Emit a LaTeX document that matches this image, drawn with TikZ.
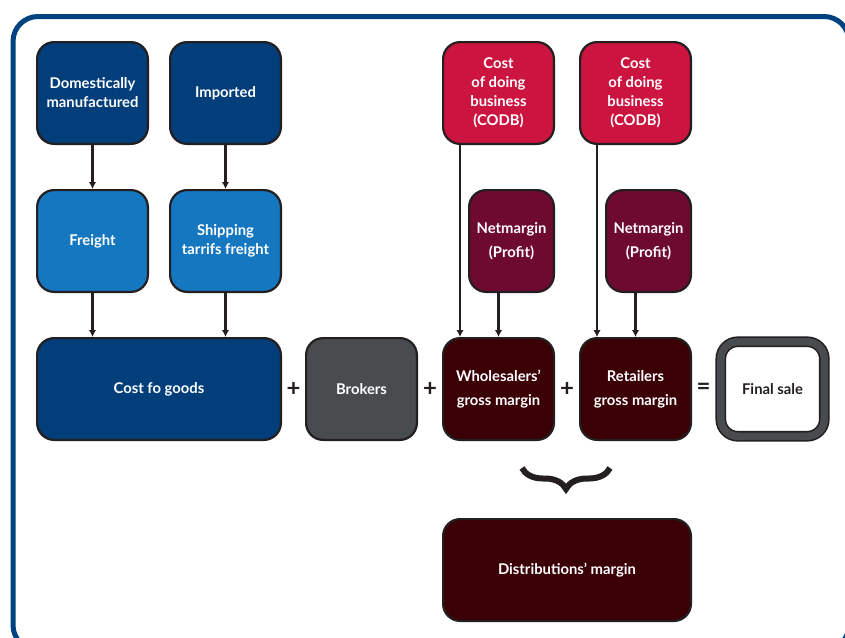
\documentclass[tikz,border=0pt]{standalone}
\usepackage{fontspec}
\setmainfont{Lato}
\usetikzlibrary{arrows.meta, positioning, calc, decorations.pathreplacing}

\definecolor{navy}{RGB}{2,62,122}
\definecolor{skyblue}{RGB}{22,119,193}
\definecolor{codbred}{RGB}{204,20,64}
\definecolor{profit}{RGB}{110,10,47}
\definecolor{margin}{RGB}{58,0,6}
\definecolor{slate}{RGB}{73,76,78}
\definecolor{edge}{RGB}{35,31,32}
\definecolor{frame}{RGB}{0,66,127}

\begin{document}
\begin{tikzpicture}[
    x=1pt, y=1pt,
    font=\bfseries\fontsize{14.8}{19}\selectfont,
    box/.style={draw=edge, line width=2.2pt, rounded corners=17pt, text=white,
    align=center, inner sep=2pt, minimum height=101.8pt, minimum width=110.8pt},
    wide/.style={box, minimum width=243.8pt},
    narrow/.style={box, minimum width=84.8pt},
    sign/.style={text=edge, font=\bfseries\fontsize{24}{24}\selectfont, inner sep=0pt},
    arrow/.style={draw=edge, line width=2.2pt, -{Latex[length=7pt,width=7.5pt]}},
    brace/.style={draw=edge, line width=6pt, decorate,
    decoration={brace, mirror, amplitude=21pt, aspect=0.5}}
    ]
    \useasboundingbox (0,0) rectangle (845,-637);
    \clip (0,0) rectangle (845,-637);
    \draw[frame, line width=5pt, rounded corners=25pt] (13,-16.5) rectangle (849,-650);

    % sources
    \node[box, fill=navy]     (dom)  at (92.5,-93)                   {Domestically\\manufactured};
    \node[box, fill=navy]     (imp)  [right=20pt of dom]             {Imported};
    \node[box, fill=skyblue]  (frt)  [below=44pt of dom]             {Freight};
    \node[box, fill=skyblue]  (shp)  [below=44pt of imp]             {Shipping\\tarrifs freight};

    % the sum
    \node[wide, fill=navy]    (cog)  [below=44pt of frt.south west, anchor=north west] {Cost fo goods};
    \node[box, fill=slate]    (brk)  [right=23pt of cog]             {Brokers};
    \node[box, fill=margin]   (whs)  [right=24pt of brk]             {Wholesalers’\\[5pt]gross margin};
    \node[box, fill=margin]   (rtl)  [right=24pt of whs]             {Retailers\\[5pt]gross margin};
    \node[box, fill=white, text=edge, draw=edge, double=slate, double distance=7.5pt,
          line width=1.6pt, minimum width=103.5pt, minimum height=94.5pt]
                              (fin)  [right=28pt of rtl]             {Final sale};

    \node[sign] (p1) at ($(cog.east)!0.5!(brk.west)$) {+};
    \node[sign] (p2) at ($(brk.east)!0.5!(whs.west)$) {+};
    \node[sign] (p3) at ($(whs.east)!0.5!(rtl.west)$) {+};
    \node[sign] (eq) at ($(rtl.east)!0.5!(fin.west)+(-2.5,0)$) {=};

    % margins
    \node[box, fill=codbred]  (cdb1) at (whs |- dom)                 {Cost\\of doing\\business\\(CODB)};
    \node[box, fill=codbred]  (cdb2) at (rtl |- dom)                 {Cost\\of doing\\business\\(CODB)};
    \node[narrow, fill=profit] (net1) [below=44pt of cdb1.south east, anchor=north east] {Netmargin\\[5pt](Profit)};
    \node[narrow, fill=profit] (net2) [below=44pt of cdb2.south east, anchor=north east] {Netmargin\\[5pt](Profit)};

    \node[box, fill=margin, minimum width=247.8pt] (dst) [below=77pt of whs.south west, anchor=north west] {Distributions’ margin};

    \coordinate (brl) at (522,-468);
    \coordinate (brr) at (610,-468);
    \draw[brace] (brl) -- (brr);

    \draw[arrow] (dom) -- (frt);
    \draw[arrow] (imp) -- (shp);
    \draw[arrow] (frt) -- (frt |- cog.north);
    \draw[arrow] (shp) -- (shp |- cog.north);
    \draw[arrow] ([xshift=-38.5pt]cdb1.south) -- ([xshift=-38.5pt]whs.north);
    \draw[arrow] (net1.south -| whs.north) -- (whs.north);
    \draw[arrow] ([xshift=-38.5pt]cdb2.south) -- ([xshift=-38.5pt]rtl.north);
    \draw[arrow] (net2.south -| rtl.north) -- (rtl.north);
\end{tikzpicture}
\end{document}
